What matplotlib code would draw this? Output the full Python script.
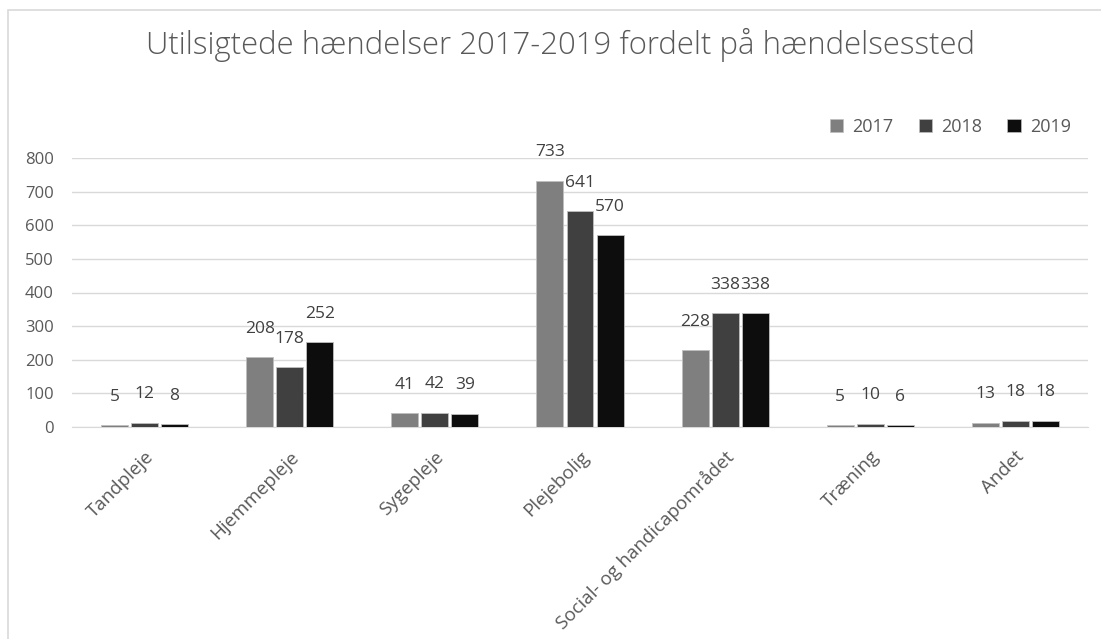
import matplotlib
matplotlib.use("Agg")
import matplotlib.pyplot as plt
from matplotlib.patches import Rectangle, Patch
from matplotlib.transforms import ScaledTranslation
import numpy as np

categories = ["Tandpleje", "Hjemmepleje", "Sygepleje", "Plejebolig",
              "Social- og handicapområdet", "Træning", "Andet"]
years = ["2017", "2018", "2019"]
v2017 = [5, 208, 41, 733, 228, 5, 13]
v2018 = [12, 178, 42, 641, 338, 10, 18]
v2019 = [8, 252, 39, 570, 338, 6, 18]
yticks = [0, 100, 200, 300, 400, 500, 600, 700, 800]
title = "Utilsigtede hændelser 2017-2019 fordelt på hændelsessted"

colors = ["#7f7f7f", "#404040", "#0d0d0d"]
txt = "#595959"
plt.rcParams['font.family'] = ['Open Sans', 'DejaVu Sans']

fig = plt.figure(figsize=(11.01, 6.39), dpi=100)
fig.patches.append(Rectangle((8/1101, -0.1), 1.2, 1 - 10/639 + 0.1,
                             transform=fig.transFigure, fill=False,
                             edgecolor="#d9d9d9", linewidth=1.2))
ax = fig.add_axes([72/1101, 1 - 427/639, (1088 - 72)/1101, (427 - 158)/639])

x = np.arange(len(categories))
slot = 0.207
bw = 0.186
series = [v2017, v2018, v2019]
for k, vals in enumerate(series):
    pos = x + (k - 1) * slot
    ax.bar(pos, vals, width=bw, color=colors[k], edgecolor="#bfbfbf",
           linewidth=0.6, label=years[k], zorder=3)
    for px, v in zip(pos, vals):
        ax.annotate(str(v), (px, v), xytext=(0, 20.5), textcoords="offset points",
                    ha="center", va="center", fontsize=12.5, color="#404040")

ax.set_xlim(-0.5, len(categories) - 0.5)
ax.set_ylim(0, 800)
ax.set_yticks(yticks)
ax.set_yticklabels([str(t) for t in yticks], fontsize=12, color=txt)
ax.set_xticks(x)
ax.set_xticklabels([])
off = ScaledTranslation(6/100, -27/100, fig.dpi_scale_trans)
for xi, lab in zip(x, categories):
    ax.text(xi, 0, lab, transform=ax.get_xaxis_transform() + off,
            rotation=45, ha="right", va="center", rotation_mode="anchor",
            fontsize=13.5, color=txt)
ax.tick_params(axis="both", length=0)
ax.tick_params(axis="y", pad=13)
ax.grid(axis="y", color="#d9d9d9", linewidth=1, zorder=0)
for s in ["top", "right", "left"]:
    ax.spines[s].set_visible(False)
ax.spines["bottom"].set_color("#d9d9d9")
ax.set_axisbelow(True)

fig.text(561/1101, 1 - 45/639, title, ha="center", va="center",
         fontsize=22.4, color=txt, fontweight="light")

handles = [Patch(facecolor=c, edgecolor="#bfbfbf", linewidth=0.5) for c in colors]
fig.legend(handles, years, loc="center right", bbox_to_anchor=(1080/1101, 1 - 127/639),
           ncol=3, frameon=False, fontsize=13, handlelength=0.75, handleheight=0.75,
           columnspacing=1.4, handletextpad=0.5, labelcolor=txt, borderpad=0)

fig.savefig("out.png", dpi=100)
